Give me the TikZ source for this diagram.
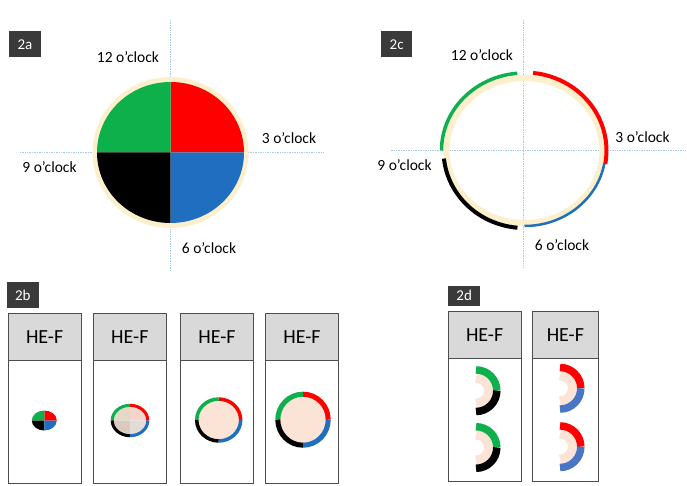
\documentclass[tikz,border=0pt]{standalone}
\usepackage{fontspec}
\setmainfont{Carlito}
\definecolor{qgreen}{HTML}{0DB04B}
\definecolor{qred}{HTML}{FF0000}
\definecolor{qblue}{HTML}{1F6EC0}
\definecolor{qblueL}{HTML}{4A75C6}
\definecolor{beige}{HTML}{FCEFCB}
\definecolor{peach}{HTML}{FBE3D6}
\definecolor{axisblue}{HTML}{A9CCDD}
\definecolor{tagfill}{HTML}{3A3A3A}
\definecolor{headfill}{HTML}{D9D9D9}
\definecolor{framegray}{HTML}{4D4D4D}
\definecolor{tintG}{HTML}{E2D9C8}
\definecolor{tintR}{HTML}{F5D4CB}
\definecolor{tintK}{HTML}{DACABF}
\definecolor{tintB}{HTML}{E0DCD8}

\tikzset{
  tag/.style={fill=tagfill, text=white, font=\fontsize{15}{15}\selectfont,
    minimum width=31.5pt, minimum height=26pt, inner sep=0pt},
  clock/.style={font=\fontsize{15.5}{16}\selectfont, inner sep=0pt},
  axisline/.style={draw=axisblue, line width=0.7pt, densely dotted},
  panelbody/.style={draw=framegray, line width=1pt, fill=white},
  header/.style={draw=framegray, line width=1pt, fill=headfill,
    font=\fontsize{20}{20}\selectfont, inner sep=0pt},
}

% four filled quadrants: centre, x radius, y radius
\newcommand\quadpie[3]{%
  \fill[qred]   (#1) -- ++(0:#2 and #3)   arc[start angle=0,   end angle=90,  x radius=#2, y radius=#3] -- cycle;
  \fill[qgreen] (#1) -- ++(90:#2 and #3)  arc[start angle=90,  end angle=180, x radius=#2, y radius=#3] -- cycle;
  \fill[black]  (#1) -- ++(180:#2 and #3) arc[start angle=180, end angle=270, x radius=#2, y radius=#3] -- cycle;
  \fill[qblue]  (#1) -- ++(270:#2 and #3) arc[start angle=270, end angle=360, x radius=#2, y radius=#3] -- cycle;
}
% four coloured ring arcs: centre, x radius, y radius (centre line), width
\newcommand\quadring[4]{%
  \draw[qred,   line width=#4] (#1) ++(0:#2 and #3)   arc[start angle=0,   end angle=90,  x radius=#2, y radius=#3];
  \draw[qgreen, line width=#4] (#1) ++(90:#2 and #3)  arc[start angle=90,  end angle=180, x radius=#2, y radius=#3];
  \draw[black,  line width=#4] (#1) ++(180:#2 and #3) arc[start angle=180, end angle=270, x radius=#2, y radius=#3];
  \draw[qblue,  line width=#4] (#1) ++(270:#2 and #3) arc[start angle=270, end angle=360, x radius=#2, y radius=#3];
}
% half ring (D shape): centre, top colour, bottom colour
\newcommand\halfring[3]{%
  \draw[peach, line width=9pt] (#1) ++(90:12.6) arc[start angle=90, end angle=-90, radius=12.6];
  \draw[#2, line width=7.5pt] (#1) ++(90:20.8) arc[start angle=90, end angle=0, radius=20.8];
  \draw[#3, line width=7.5pt] (#1) ++(0:20.8) arc[start angle=0, end angle=-90, radius=20.8];
}

\begin{document}
\begin{tikzpicture}[x=1pt, y=1pt]
\useasboundingbox (0,0) rectangle (687,485);

%% ---------- 2a: full disk with four quadrants ----------
\coordinate (ca) at (170.5,332.5);
\coordinate (avt) at (170.5,465);
\coordinate (avb) at (170.5,215);
\coordinate (ahl) at (20,332.5);
\coordinate (ahr) at (323,332.5);
\draw[axisline] (avt) -- (avb);
\draw[axisline] (ahl) -- (ahr);
\fill[beige] (ca) ellipse[x radius=78, y radius=75.5];
\quadpie{ca}{73.5}{70.5}
\node[tag] (tag2a) at (24.9,440.5) {2a};
\node[clock] (a12) at (128,428.3) {12 o’clock};
\node[clock] (a3)  at (289,347)   {3 o’clock};
\node[clock] (a9)  at (49.5,318.3) {9 o’clock};
\node[clock] (a6)  at (209,237)   {6 o’clock};

%% ---------- 2c: ring with displaced quadrant arcs ----------
\coordinate (cc) at (524.5,334.5);
\coordinate (cvt) at (523.3,465);
\coordinate (cvb) at (523.3,217);
\coordinate (chl) at (390.7,335);
\coordinate (chr) at (685,335);
\draw[axisline] (cvt) -- (cvb);
\draw[axisline] (chl) -- (chr);
\draw[beige, line width=6pt] (cc) ellipse[x radius=78, y radius=72.5];
\draw[qred, line width=4pt] (cc) ++(84:82 and 78)
  arc[start angle=84, end angle=-10, x radius=82, y radius=78];
\draw[qblue, line width=2.5pt] (cc) ++(-10:81 and 75.5)
  arc[start angle=-10, end angle=-90, x radius=81, y radius=75.5];
\draw[black, line width=4pt] (cc) ++(186:81 and 77.5)
  arc[start angle=186, end angle=265, x radius=81, y radius=77.5];
\draw[qgreen, line width=3.5pt] (cc) ++(95:83 and 77.5)
  arc[start angle=95, end angle=180, x radius=83, y radius=77.5];
\node[tag] (tag2c) at (396.7,440.8) {2c};
\node[clock] (c12) at (482,430)   {12 o’clock};
\node[clock] (c3)  at (642.5,348.3) {3 o’clock};
\node[clock] (c9)  at (404.5,320) {9 o’clock};
\node[clock] (c6)  at (562,240)   {6 o’clock};

%% ---------- 2b: four HE-F panels ----------
\node[tag] (tag2b) at (22.8,190) {2b};
\foreach \xl/\xr/\nm in {8.3/81/hb1, 93.7/166/hb2, 180.7/253.3/hb3, 265.7/338.3/hb4}{
  \draw[panelbody] (\xl,1.5) rectangle (\xr,125);
  \node[header, minimum width={\xr-\xl}, minimum height=46.7pt]
    (\nm) at ({(\xl+\xr)/2},148.3) {HE-F};
}
% panel 1: small solid disk
\coordinate (b1) at (44.3,64.5);
\quadpie{b1}{12.5}{10}
% panel 2: tinted interior with thin ring
\coordinate (b2) at (130,64.5);
\fill[tintR] (b2) -- ++(0:19.3 and 16.7)   arc[start angle=0,   end angle=90,  x radius=19.3, y radius=16.7] -- cycle;
\fill[tintG] (b2) -- ++(90:19.3 and 16.7)  arc[start angle=90,  end angle=180, x radius=19.3, y radius=16.7] -- cycle;
\fill[tintK] (b2) -- ++(180:19.3 and 16.7) arc[start angle=180, end angle=270, x radius=19.3, y radius=16.7] -- cycle;
\fill[tintB] (b2) -- ++(270:19.3 and 16.7) arc[start angle=270, end angle=360, x radius=19.3, y radius=16.7] -- cycle;
\quadring{b2}{17.8}{15.2}{3pt}
% panel 3
\coordinate (b3) at (218.7,65);
\fill[peach] (b3) ellipse[x radius=23.7, y radius=22.7];
\quadring{b3}{21.95}{20.95}{3.5pt}
% panel 4
\coordinate (b4) at (303,65.3);
\fill[peach] (b4) ellipse[x radius=27.7, y radius=28];
\quadring{b4}{25.2}{25.5}{5pt}

%% ---------- 2d: two HE-F panels with half rings ----------
\node[tag, minimum height=20pt] (tag2d) at (464.2,189.2) {2d};
\foreach \xl/\xr/\nm in {448.3/521/hd1, 532.3/598.5/hd2}{
  \draw[panelbody] (\xl,4) rectangle (\xr,126.7);
  \node[header, minimum width={\xr-\xl}, minimum height=46.6pt]
    (\nm) at ({(\xl+\xr)/2},150) {HE-F};
}
\coordinate (d1) at (476,94.3);
\coordinate (d2) at (476,37.5);
\coordinate (d3) at (560,96.7);
\coordinate (d4) at (560,38.3);
\halfring{d1}{qgreen}{black}
\halfring{d2}{qgreen}{black}
\halfring{d3}{qred}{qblueL}
\halfring{d4}{qred}{qblueL}
\end{tikzpicture}
\end{document}
